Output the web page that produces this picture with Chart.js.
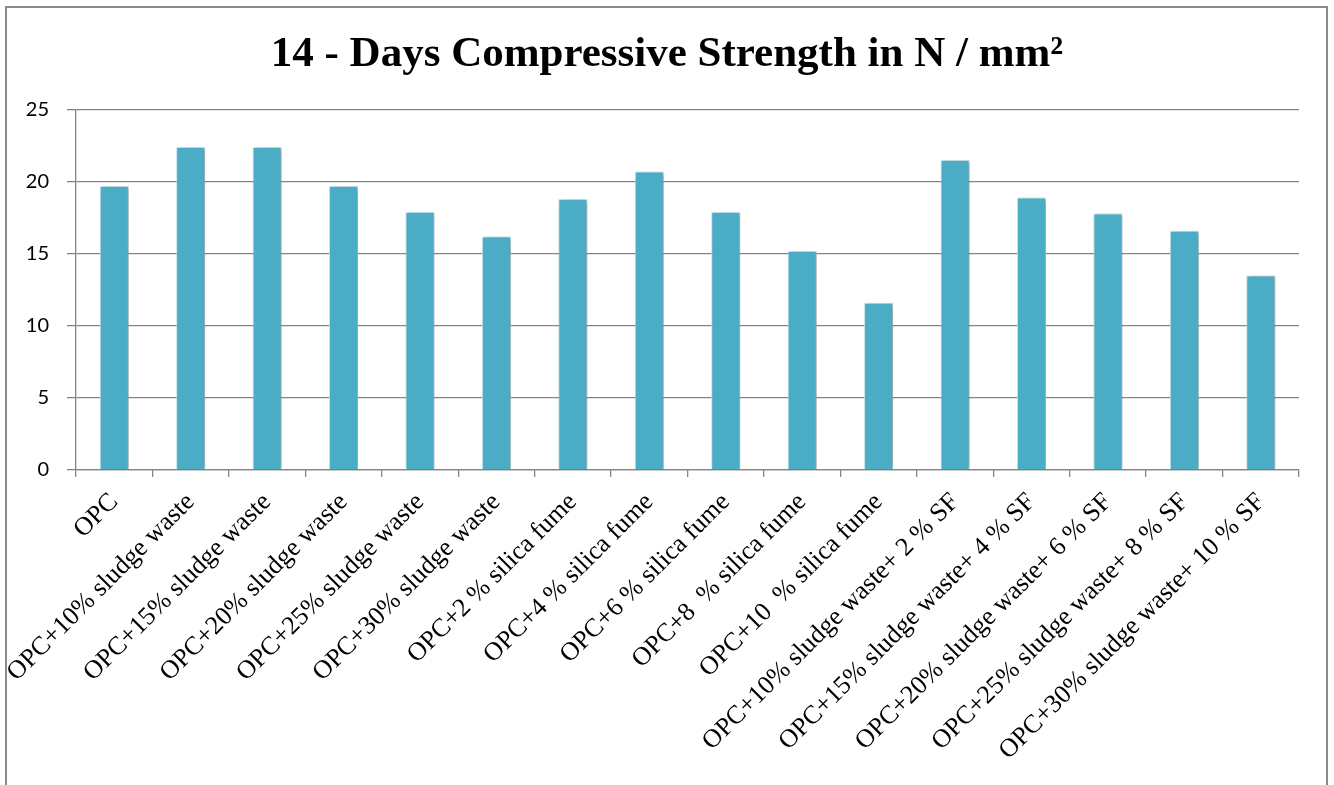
<!DOCTYPE html>
<html>
<head>
<meta charset="utf-8">
<script src="https://cdn.jsdelivr.net/npm/chart.js@4.4.1/dist/chart.umd.min.js"></script>
<style>
  html, body { margin: 0; padding: 0; background: #fff; }
  #caja { position: relative; width: 1334px; height: 785px; }
</style>
</head>
<body>
<div id="caja"><canvas id="resistencia" width="1334" height="785"></canvas></div>
<script>
const mezclas = [
    "OPC",
    "OPC+10% sludge waste",
    "OPC+15% sludge waste",
    "OPC+20% sludge waste",
    "OPC+25% sludge waste",
    "OPC+30% sludge waste",
    "OPC+2 % silica fume",
    "OPC+4 % silica fume",
    "OPC+6 % silica fume",
    "OPC+8  % silica fume",
    "OPC+10  % silica fume",
    "OPC+10% sludge waste+ 2 % SF",
    "OPC+15% sludge waste+ 4 % SF",
    "OPC+20% sludge waste+ 6 % SF",
    "OPC+25% sludge waste+ 8 % SF",
    "OPC+30% sludge waste+ 10 % SF"
];
const resistencia14 = [19.7, 22.4, 22.4, 19.7, 17.9, 16.2, 18.8, 20.7, 17.9, 15.2, 11.6, 21.5, 18.9, 17.8, 16.6, 13.5];
const ejeY = { min: 0, max: 25, paso: 5 };

const GRIS = '#858585';

// sombra suave detras de las barras, como en Excel
const sombra = {
    id: 'sombra',
    beforeDatasetsDraw(chart) {
        const c = chart.ctx;
        c.save();
        c.shadowColor = 'rgba(0, 0, 0, 0.35)';
        c.shadowBlur = 4;
        c.shadowOffsetX = 2;
        c.shadowOffsetY = 1;
    },
    afterDatasetsDraw(chart) {
        chart.ctx.restore();
    }
};

// marco exterior del grafico (sin borde inferior)
const marco = {
    id: 'marco',
    afterDraw(chart) {
        const c = chart.ctx;
        c.save();
        c.strokeStyle = '#8a8a8a';
        c.lineWidth = 2;
        c.beginPath();
        c.moveTo(6, 785);
        c.lineTo(6, 7);
        c.lineTo(1327, 7);
        c.lineTo(1327, 785);
        c.stroke();
        c.restore();
    }
};

const ctx = document.getElementById('resistencia').getContext('2d');
const grafico = new Chart(ctx, {
    type: 'bar',
    data: {
        labels: mezclas,
        datasets: [{
            label: '14 - Days Compressive Strength',
            data: resistencia14,
            backgroundColor: '#4BACC6',
            borderColor: 'rgba(200, 235, 245, 0.9)',
            borderWidth: { top: 1, left: 1, right: 1, bottom: 0 },
            barPercentage: 0.38,
            categoryPercentage: 1
        }]
    },
    options: {
        responsive: false,
        animation: false,
        layout: {
            padding: 0
        },
        scales: {
            x: {
                grid: {
                    drawOnChartArea: false,
                    drawTicks: true,
                    tickLength: 7,
                    color: GRIS,
                    lineWidth: 1.3,
                    offset: true
                },
                border: { color: GRIS, width: 1.3 },
                ticks: {
                    autoSkip: false,
                    minRotation: 45,
                    maxRotation: 45,
                    padding: 10,
                    color: '#000',
                    font: { family: '"Liberation Serif", "Times New Roman", serif', size: 26 }
                },
                afterFit(scale) {
                    scale.height = 315;
                }
            },
            y: {
                min: ejeY.min,
                max: ejeY.max,
                ticks: {
                    stepSize: ejeY.paso,
                    padding: 18,
                    color: '#000',
                    font: { family: 'Lato, "Open Sans", sans-serif', size: 20 }
                },
                grid: {
                    color: GRIS,
                    lineWidth: 1.3,
                    tickLength: 9
                },
                border: { color: GRIS, width: 1.3 },
                afterFit(scale) {
                    scale.width = 76;
                }
            },
            // eje vacio a la derecha: deja el margen sin descentrar el titulo
            margen: {
                position: 'right',
                display: true,
                ticks: { display: false },
                grid: { display: false },
                border: { display: false },
                afterFit(scale) {
                    scale.width = 35;
                }
            }
        },
        plugins: {
            legend: { display: false },
            tooltip: { enabled: false },
            title: {
                display: true,
                text: '14 - Days Compressive Strength in N / mm\u00B2',
                color: '#000',
                font: { family: '"Liberation Serif", "Times New Roman", serif', size: 43, weight: 'bold' },
                padding: { top: 29, bottom: 29 }
            }
        }
    },
    plugins: [sombra, marco]
});
</script>
</body>
</html>
